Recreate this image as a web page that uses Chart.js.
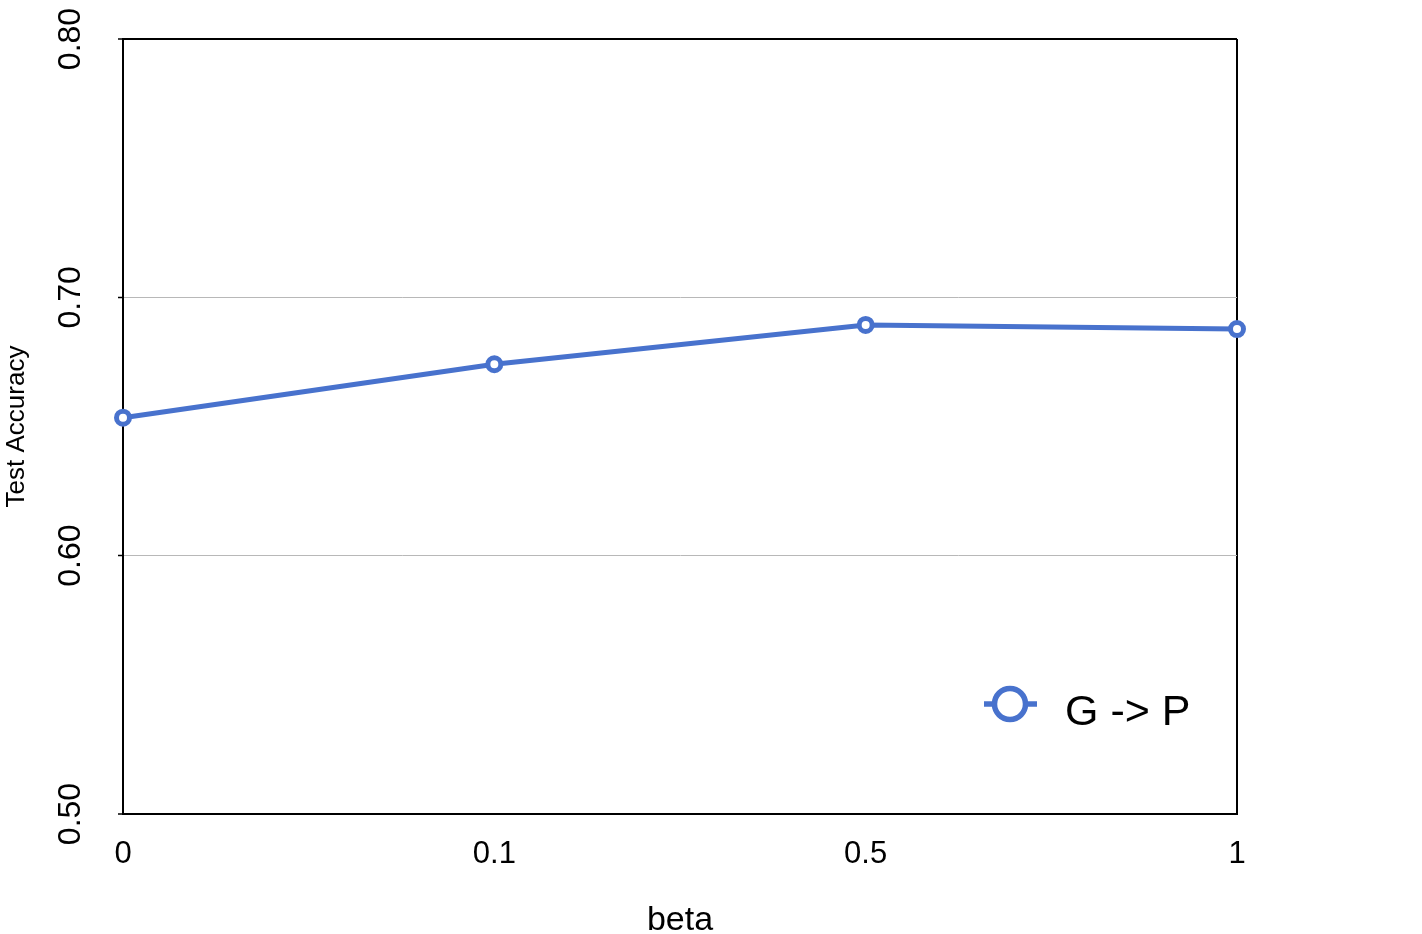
<!DOCTYPE html>
<html>
<head>
<meta charset="utf-8">
<title>Test Accuracy vs beta</title>
<script src="https://cdn.jsdelivr.net/npm/chart.js@4.4.1/dist/chart.umd.min.js"></script>
<style>
  html, body { margin: 0; padding: 0; background: #fff; }
  #wrap { width: 1422px; height: 934px; }
</style>
</head>
<body>
<div id="wrap"><canvas id="chart" width="1422" height="934"></canvas></div>
<script>
const betaLabels = ['0', '0.1', '0.5', '1'];
const accuracyGP = [0.6534, 0.6741, 0.6893, 0.6877];
const seriesName = 'G -> P';
const yTicks = [0.5, 0.6, 0.7, 0.8];

const BLUE = '#4872CD';
const FONT = '"Liberation Sans", Arial, Helvetica, sans-serif';

// legend drawn inside the plot, bottom right, with a line-through-circle marker
const insideLegend = {
    id: 'insideLegend',
    afterDraw(chart) {
        const { ctx, chartArea } = chart;
        const ds = chart.data.datasets[0];
        const cx = chartArea.right - 227;
        const cy = chartArea.bottom - 110;
        ctx.save();
        ctx.strokeStyle = ds.borderColor;
        ctx.lineWidth = 5.5;
        ctx.beginPath();
        ctx.moveTo(cx - 26, cy);
        ctx.lineTo(cx + 27, cy);
        ctx.stroke();
        ctx.beginPath();
        ctx.arc(cx, cy, 15.5, 0, Math.PI * 2);
        ctx.fillStyle = '#fff';
        ctx.fill();
        ctx.stroke();
        ctx.fillStyle = '#000';
        ctx.font = '43px ' + FONT;
        ctx.textAlign = 'left';
        ctx.textBaseline = 'alphabetic';
        ctx.fillText(ds.label, cx + 55, cy + 21);
        ctx.restore();
    }
};

const isEdge = v => Math.abs(v - yTicks[0]) < 1e-6 || Math.abs(v - yTicks[yTicks.length - 1]) < 1e-6;

new Chart(document.getElementById('chart'), {
    type: 'line',
    data: {
        labels: betaLabels,
        datasets: [{
            label: seriesName,
            data: accuracyGP,
            borderColor: BLUE,
            backgroundColor: '#fff',
            borderWidth: 5,
            pointRadius: 6.5,
            pointBorderWidth: 5,
            pointBackgroundColor: '#fff',
            pointBorderColor: BLUE,
            tension: 0,
            clip: false
        }]
    },
    options: {
        responsive: false,
        animation: false,
        devicePixelRatio: 1,
        layout: { padding: { top: 39, right: 185, bottom: 0, left: 0 } },
        plugins: {
            legend: { display: false },
            tooltip: { enabled: false }
        },
        scales: {
            x: {
                offset: false,
                afterFit: s => { s.height = 120; },
                border: { display: true, color: '#000', width: 2 },
                grid: {
                    drawTicks: false,
                    color: c => c.index === betaLabels.length - 1 ? '#000' : 'rgba(0,0,0,0)',
                    lineWidth: 2
                },
                ticks: {
                    color: '#000',
                    padding: 22,
                    maxRotation: 0,
                    font: { family: FONT, size: 31 }
                },
                title: {
                    display: true,
                    text: 'beta',
                    color: '#000',
                    padding: 0,
                    font: { family: FONT, size: 34, lineHeight: 0.79 }
                }
            },
            y: {
                min: yTicks[0],
                max: yTicks[yTicks.length - 1],
                afterFit: s => { s.width = 123; },
                afterBuildTicks: s => { s.ticks = yTicks.map(v => ({ value: v })); },
                border: { display: true, color: '#000', width: 2 },
                grid: {
                    drawTicks: true,
                    tickLength: 5,
                    tickColor: '#000',
                    tickWidth: 1.5,
                    color: c => isEdge(c.tick.value) ? '#000' : '#b8b8b8',
                    lineWidth: c => isEdge(c.tick.value) ? 2 : 1
                },
                ticks: {
                    color: '#000',
                    minRotation: 90,
                    maxRotation: 90,
                    crossAlign: 'center',
                    padding: 16,
                    font: { family: FONT, size: 32 },
                    callback: v => Number(v).toFixed(2)
                },
                title: {
                    display: true,
                    text: 'Test Accuracy',
                    color: '#000',
                    padding: 1,
                    font: { family: FONT, size: 26 }
                }
            }
        }
    },
    plugins: [insideLegend]
});
</script>
</body>
</html>
